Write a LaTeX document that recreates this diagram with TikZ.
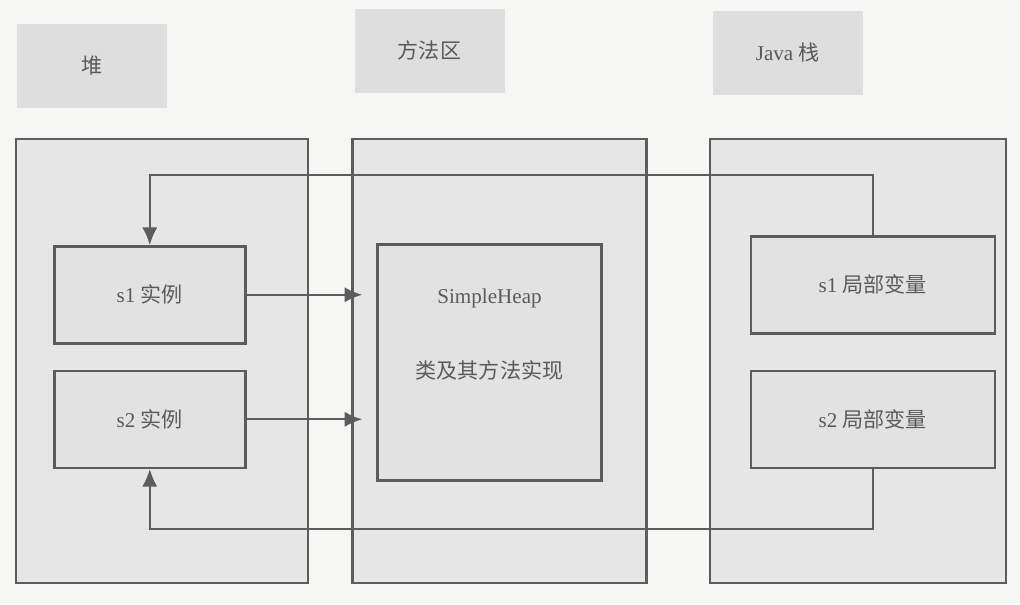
\documentclass[tikz,border=0pt]{standalone}
\usepackage{fontspec}
\setmainfont{Liberation Serif}
\newfontfamily\cjk{Noto Sans CJK SC}
\usepackage{xcolor}
\usepackage{tikz}
\usetikzlibrary{positioning}
\usetikzlibrary{arrows.meta}
\tikzset{>={Latex[width=3.8mm,length=4.4mm]}}
\definecolor{lineGray}{HTML}{5C5C5C}
\definecolor{textGray}{HTML}{5A5A5A}
\definecolor{areaGray}{HTML}{E6E6E6}
\definecolor{boxGray}{HTML}{E2E2E2}
\definecolor{titleGray}{HTML}{DEDEDE}
\definecolor{paperGray}{HTML}{F6F6F4}

\begin{document}
\begin{tikzpicture}[area/.style={rectangle, draw=lineGray, fill=areaGray, line width=1.6pt, minimum width=7.3cm, minimum height=11.1cm, inner sep=0pt}, box/.style={rectangle, draw=lineGray, fill=boxGray, line width=1.8pt, text=textGray, font=\fontsize{15}{18}\selectfont, inner sep=0pt}, areatitle/.style={rectangle, draw=none, fill=titleGray, text=textGray, font=\fontsize{15}{18}\selectfont, minimum width=3.75cm, minimum height=2.1cm, inner sep=0pt}, emptynode/.style={draw=none, fill=none, text=textGray, font=\fontsize{15}{18}\selectfont, inner sep=0pt}]

    \fill[paperGray] (0,0) rectangle (25.5,-15.1);
    \useasboundingbox (0,0) rectangle (25.5,-15.1);

    %Nodes
    \node[area, anchor=north west](heap_area) at (0.375,-3.45){};
    \node[area, minimum width=7.35cm](method_area)[right=1.05cm of heap_area]{};
    \node[area, minimum width=7.4cm](stack_area)[right=1.525cm of method_area]{};

    \node[areatitle](heap_title)[above right=0.75cm and 0.05cm of heap_area.north west]{\cjk 堆};
    \node[areatitle](method_title)[above right=1.125cm and 0.075cm of method_area.north west]{\cjk 方法区};
    \node[areatitle](stack_title)[above right=1.075cm and 0.1cm of stack_area.north west]{Java {\cjk 栈}};

    \node[box, minimum width=4.775cm, minimum height=2.425cm](s1_inst)[below right=2.675cm and 0.95cm of heap_area.north west]{s1 {\cjk 实例}};
    \node[box, minimum width=4.775cm, minimum height=2.425cm](s2_inst)[below=0.625cm of s1_inst]{s2 {\cjk 实例}};

    \node[box, minimum width=5.6cm, minimum height=5.9cm](heap_class)[below right=2.625cm and 0.625cm of method_area.north west]{};
    \node[emptynode](class_name)[below=1.375cm of heap_class.north, anchor=center]{SimpleHeap};
    \node[emptynode](class_text)[below=3.175cm of heap_class.north, anchor=center]{\cjk 类及其方法实现};

    \node[box, minimum width=6.1cm, minimum height=2.425cm](s1_var)[below right=2.425cm and 1.025cm of stack_area.north west]{s1 {\cjk 局部变量}};
    \node[box, minimum width=6.1cm, minimum height=2.425cm](s2_var)[below=0.875cm of s1_var]{s2 {\cjk 局部变量}};

    %Lines
    \draw[->, draw=lineGray, line width=1.6pt, shorten >=0.35cm] (s1_inst.east) -- (s1_inst.east -| heap_class.west);
    \draw[->, draw=lineGray, line width=1.6pt, shorten >=0.35cm] (s2_inst.east) -- (s2_inst.east -| heap_class.west);
    \draw[->, draw=lineGray, line width=1.4pt] (s1_var.north) -- ++(0,1.5cm) -| (s1_inst.north);
    \draw[->, draw=lineGray, line width=1.4pt] (s2_var.south) -- ++(0,-1.5cm) -| (s2_inst.south);

\end{tikzpicture}
\end{document}
